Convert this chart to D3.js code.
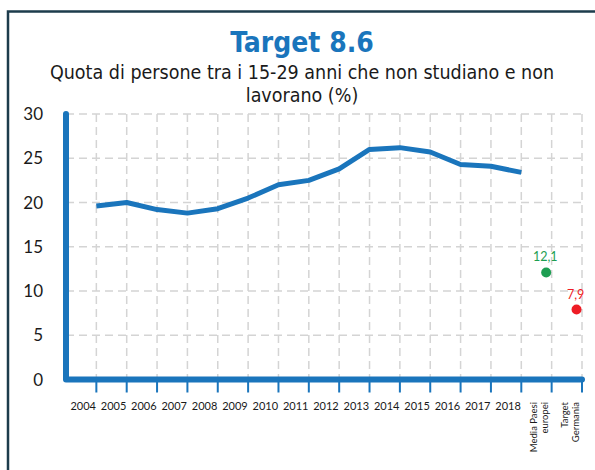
<!DOCTYPE html>
<html>
<head>
<meta charset="utf-8">
<script src="https://cdn.jsdelivr.net/npm/d3@7"></script>
<style>
  body { margin: 0; background: #fff; }
  text { font-family: Lato, "Open Sans", sans-serif; }
  .ttl { font-family: "DejaVu Sans Condensed", "DejaVu Sans", sans-serif; }
</style>
</head>
<body>
<svg id="chart" width="595" height="470"></svg>
<script>
// years of the series plus the two reference points
var years = ["2004", "2005", "2006", "2007", "2008", "2009", "2010", "2011",
             "2012", "2013", "2014", "2015", "2016", "2017", "2018"];
var neet = [19.6, 20.0, 19.2, 18.8, 19.3, 20.5, 22.0, 22.5,
            23.8, 26.0, 26.2, 25.7, 24.3, 24.1, 23.4];
var refCats = ["Media Paesi europei", "Target Germania"];
var refLabels = [["Media Paesi", "europei"], ["Target", "Germania"]];
var refValues = [12.1, 7.9];
var refColors = ["#1e9e52", "#ee1c25"];
var yTicks = [0, 5, 10, 15, 20, 25, 30];
var subtitle = ["Quota di persone tra i 15-29 anni che non studiano e non", "lavorano (%)"];

var blue = "#1a75bc";
var svg = d3.select("#chart");

// outer frame (runs off the right and bottom edges)
svg.append("rect")
    .attr("x", 8).attr("y", 11.5)
    .attr("width", 620).attr("height", 500)
    .attr("fill", "none")
    .attr("stroke", "#1d3c4c")
    .attr("stroke-width", 2.5);

//Titles
svg.append("text")
    .attr("class", "ttl")
    .attr("x", 302).attr("y", 52)
    .attr("text-anchor", "middle")
    .style("font-size", "28px")
    .style("font-weight", "bold")
    .attr("fill", blue)
    .text("Target 8.6");

// subtitle on two lines
svg.selectAll(".sub")
    .data(subtitle)
    .enter()
    .append("text")
    .attr("class", "ttl sub")
    .attr("x", 302)
    .attr("y", function (d, i) { return 78.5 + i * 23; })
    .attr("text-anchor", "middle")
    .style("font-size", "19.5px")
    .attr("fill", "#1a1a1a")
    .text(function (d) { return d; });

var cats = years.concat(refCats);

var x = d3.scaleBand()
    .domain(cats)
    .range([66, 582])
    .padding(0);

var y = d3.scaleLinear()
    .domain([0, 30])
    .range([379.5, 114]);

var bw = x.bandwidth();

// dashed grid
var grid = svg.append("g").attr("class", "grid")
    .attr("stroke", "#d4d4d4")
    .attr("stroke-width", 1.5)
    .attr("stroke-dasharray", "8,5");

grid.selectAll(".hgrid")
    .data(yTicks.filter(function (d) { return d > 0; }))
    .enter()
    .append("line")
    .attr("x1", 66).attr("x2", 582)
    .attr("y1", function (d) { return y(d); })
    .attr("y2", function (d) { return y(d); });

grid.selectAll(".vgrid")
    .data(cats)
    .enter()
    .append("line")
    .attr("x1", function (d) { return x(d) + bw; })
    .attr("x2", function (d) { return x(d) + bw; })
    .attr("y1", y(30))
    .attr("y2", y(0));

// y tick labels
svg.selectAll(".ylab")
    .data(yTicks)
    .enter()
    .append("text")
    .attr("class", "ylab")
    .attr("x", 43)
    .attr("y", function (d) { return y(d) + 6; })
    .attr("text-anchor", "end")
    .style("font-size", "17px")
    .attr("fill", "#1a1a1a")
    .text(function (d) { return d; });

// tick marks below x axis
svg.selectAll(".xtick")
    .data(cats)
    .enter()
    .append("line")
    .attr("x1", function (d) { return x(d) + bw; })
    .attr("x2", function (d) { return x(d) + bw; })
    .attr("y1", y(0))
    .attr("y2", y(0) + 13)
    .attr("stroke", blue)
    .attr("stroke-width", 2);

// axes
svg.append("path")
    .attr("d", "M" + x.range()[0] + "," + y(30) + "V" + y(0) + "H" + x.range()[1])
    .attr("fill", "none")
    .attr("stroke", blue)
    .attr("stroke-width", 6)
    .attr("stroke-linecap", "round")
    .attr("stroke-linejoin", "round");

// year labels
svg.selectAll(".xlab")
    .data(years)
    .enter()
    .append("text")
    .attr("class", "xlab")
    .attr("x", function (d) { return x(d) + bw / 2 + 2; })
    .attr("y", 409.5)
    .attr("text-anchor", "middle")
    .style("font-size", "11px")
    .attr("fill", "#1a1a1a")
    .text(function (d) { return d; });

// rotated labels for the reference points
refCats.forEach(function (c, i) {
    var t = svg.append("text")
        .attr("transform", "translate(" + (x(c) + bw / 2 + 3) + ",402) rotate(-90)")
        .attr("text-anchor", "end")
        .style("font-size", "9.5px")
        .attr("fill", "#1a1a1a");
    refLabels[i].forEach(function (s, j) {
        t.append("tspan")
            .attr("x", 0)
            .attr("y", j === 0 ? -2 : 9)
            .text(s);
    });
});

// series line
var line = d3.line()
    .x(function (d, i) { return x(years[i]) + bw; })
    .y(function (d) { return y(d); });

svg.append("path")
    .datum(neet)
    .attr("d", line)
    .attr("fill", "none")
    .attr("stroke", blue)
    .attr("stroke-width", 5)
    .attr("stroke-linejoin", "round");

// reference dots + value labels
svg.selectAll(".refdot")
    .data(refValues)
    .enter()
    .append("circle")
    .attr("class", "refdot")
    .attr("cx", function (d, i) { return x(refCats[i]) + bw * 0.82; })
    .attr("cy", function (d) { return y(d); })
    .attr("r", 5)
    .attr("fill", function (d, i) { return refColors[i]; });

svg.selectAll(".reflab")
    .data(refValues)
    .enter()
    .append("text")
    .attr("class", "reflab")
    .attr("x", function (d, i) { return x(refCats[i]) + bw * 0.79; })
    .attr("y", function (d) { return y(d) - 11; })
    .attr("text-anchor", "middle")
    .style("font-size", "12.5px")
    .attr("fill", function (d, i) { return refColors[i]; })
    .text(function (d) { return String(d).replace(".", ","); });
</script>
</body>
</html>
